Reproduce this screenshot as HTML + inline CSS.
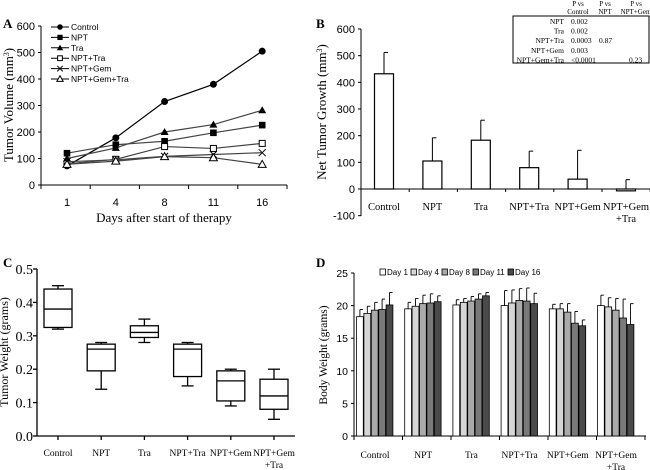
<!DOCTYPE html>
<html><head><meta charset="utf-8"><style>
html,body{margin:0;padding:0;background:#fff}
svg{display:block}
text{font-family:"Liberation Serif",serif;fill:#000}
.sans{font-family:"Liberation Sans",sans-serif}
</style></head><body>
<svg id="fig" width="650" height="470" viewBox="0 0 650 470">
<g id="pa"></g>
<g id="pb"></g>
<g id="pc"></g>
<g id="pd"></g>
</svg>
<script>
// Panel A data
const aDays = ["1","4","8","11","16"];
const aSeries = ["Control","NPT","Tra","NPT+Tra","NPT+Gem","NPT+Gem+Tra"];
const aControl = [72,178,315,380,505];
const aNPT = [120,152,165,197,226];
const aTra = [100,140,200,228,282];
const aNPTTra = [80,97,145,138,157];
const aNPTGem = [88,95,108,115,122];
const aNPTGemTra = [78,90,107,103,78];
const aTicks = [0,100,200,300,400,500,600];
// Panel B data
const bCats = ["Control","NPT","Tra","NPT+Tra","NPT+Gem","NPT+Gem|+Tra"];
const bMeans = [432,105,183,80,37,-7];
const bErrTop = [512,192,258,142,145,35];
const bTicks = [-100,0,100,200,300,400,500,600];
// Panel C data
const cMin = [0.32,0.14,0.28,0.15,0.09,0.05];
const cQ1 = [0.325,0.195,0.295,0.178,0.105,0.08];
const cMed = [0.38,0.26,0.31,0.26,0.165,0.12];
const cQ3 = [0.44,0.275,0.33,0.275,0.195,0.17];
const cMax = [0.45,0.28,0.35,0.28,0.20,0.20];
const cTicks = [0.0,0.1,0.2,0.3,0.4,0.5];
// Panel D data
const dDays = ["Day 1","Day 4","Day 8","Day 11","Day 16"];
const dControl = [18.3,18.8,19.3,19.4,20.1];
const dNPT = [19.5,19.9,20.3,20.4,20.6];
const dTra = [20.1,20.5,20.7,21.0,21.5];
const dNPTTra = [20.0,20.4,20.8,20.7,20.3];
const dNPTGem = [19.5,19.5,19.0,17.3,16.9];
const dNPTGemTra = [20.0,19.8,19.3,18.1,17.1];
const dErrControl = [19.4,19.9,20.5,21.0,22.0];
const dErrNPT = [20.5,21.1,21.6,21.8,21.5];
const dErrTra = [20.9,21.1,21.4,21.8,22.0];
const dErrNPTTra = [22.3,22.4,22.6,22.7,21.9];
const dErrNPTGem = [20.2,20.3,20.3,19.1,17.8];
const dErrNPTGemTra = [21.6,21.2,21.1,21.0,20.3];
const dTicks = [0,5,10,15,20,25];

const NS="http://www.w3.org/2000/svg";
function mk(p,tag,at,txt){const e=document.createElementNS(NS,tag);for(const k in at)e.setAttribute(k,at[k]);if(txt!==undefined)e.textContent=txt;p.appendChild(e);return e;}
function ln(p,x1,y1,x2,y2,w){return mk(p,"line",{x1,y1,x2,y2,stroke:"#000","stroke-width":w||1});}

// ---------- A ----------
(function(){
const g=document.getElementById("pa");
const X=i=>67+i*48.8, Y=v=>185-v*159/600;
let t=mk(g,"text",{x:3,y:28,"font-size":13,"font-weight":"bold"},"A");

ln(g,41,26,41,185);ln(g,41,185,287,185);
aTicks.forEach(v=>{ln(g,38,Y(v),41,Y(v));const e=mk(g,"text",{x:35,y:Y(v)+4,"font-size":11,"text-anchor":"end",class:"sans"},v);
});
for(let i=0;i<=5;i++){const x=41+i*49.2;ln(g,x,185,x,189);}
aDays.forEach((d,i)=>{const e=mk(g,"text",{x:X(i),y:206,"font-size":11,"text-anchor":"middle",class:"sans"},d);
});
t=mk(g,"text",{x:164,y:222,"font-size":13,"text-anchor":"middle"},"Days after start of therapy");

t=mk(g,"text",{transform:"translate(13,105) rotate(-90)","font-size":13,"text-anchor":"middle"});
t.innerHTML='Tumor Volume (mm<tspan baseline-shift="super" font-size="8">3</tspan>)';

const data=[aControl,aNPT,aTra,aNPTTra,aNPTGem,aNPTGemTra];
function marker(p,k,x,y,s){s=s||1;
 if(k===0)return mk(p,"circle",{cx:x,cy:y,r:3.5*s,fill:"#000"});
 if(k===1)return mk(p,"rect",{x:x-3.3*s,y:y-3.3*s,width:6.6*s,height:6.6*s,fill:"#000"});
 if(k===2)return mk(p,"polygon",{points:`${x},${y-4*s} ${x-4*s},${y+3*s} ${x+4*s},${y+3*s}`,fill:"#000"});
 if(k===3)return mk(p,"rect",{x:x-3*s,y:y-3*s,width:6*s,height:6*s,fill:"#fff",stroke:"#000"});
 if(k===4){const q=mk(p,"g",{});ln(q,x-3.5*s,y-3.5*s,x+3.5*s,y+3.5*s);ln(q,x-3.5*s,y+3.5*s,x+3.5*s,y-3.5*s);return q;}
 return mk(p,"polygon",{points:`${x},${y-4*s} ${x-4*s},${y+3*s} ${x+4*s},${y+3*s}`,fill:"#fff",stroke:"#000"});
}
data.forEach((s,k)=>{
 const sg=mk(g,"g",{});
 mk(sg,"polyline",{points:s.map((v,i)=>X(i)+","+Y(v)).join(" "),fill:"none",stroke:k===0?"#000":"#444","stroke-width":1.2});
 s.forEach((v,i)=>{const m=marker(sg,k,X(i),Y(v));});
 const ly=27+k*10.4;
 const lg=mk(g,"g",{});
 ln(lg,51,ly,69,ly,1);marker(lg,k,60,ly,0.8);
 mk(lg,"text",{x:71,y:ly+3,"font-size":8.5,class:"sans"},aSeries[k]);
});
})();

// ---------- B ----------
(function(){
const g=document.getElementById("pb");
const X=i=>384+i*48.4, Y=v=>189-v*160/600;
let t=mk(g,"text",{x:316,y:28,"font-size":13,"font-weight":"bold"},"B");

ln(g,361,29,361,216);ln(g,361,Y(0),650,Y(0));
bTicks.forEach(v=>{ln(g,358,Y(v),361,Y(v));const e=mk(g,"text",{x:355,y:Y(v)+4,"font-size":11,"text-anchor":"end",class:"sans"},v);
});
for(let i=0;i<=6;i++){const x=361+i*48.2;ln(g,x,Y(0),x,Y(0)+3);}
t=mk(g,"text",{transform:"translate(326,112) rotate(-90)","font-size":13,"text-anchor":"middle"});
t.innerHTML='Net Tumor Growth (mm<tspan baseline-shift="super" font-size="8">3</tspan>)';

bMeans.forEach((v,i)=>{
 const x=X(i);ln(g,x,Y(bErrTop[i]),x,Y(Math.max(v,0)));ln(g,x,Y(bErrTop[i]),x+4,Y(bErrTop[i]));
 const r=mk(g,"rect",{x:x-9.5,y:Math.min(Y(v),Y(0)),width:19,height:Math.max(Math.abs(Y(v)-Y(0)),1),fill:"#fff",stroke:"#000","stroke-width":1.2});
 
 bCats[i].split("|").forEach((s,j)=>{const e=mk(g,"text",{x:x,y:210+j*12,"font-size":10.5,"text-anchor":"middle"},s);
 });
});
const tg=mk(g,"g",{});
mk(tg,"rect",{x:513,y:16,width:136,height:47,fill:"none",stroke:"#000","stroke-width":1});
[["P vs","Control",578],["P vs","NPT",605],["P vs","NPT+Gem",636]].forEach(h=>{
 mk(tg,"text",{x:h[2],y:6,"font-size":7,"text-anchor":"middle"},h[0]);mk(tg,"text",{x:h[2],y:14,"font-size":7,"text-anchor":"middle"},h[1]);});
const rows=[["NPT","0.002","",""],["Tra","0.002","",""],["NPT+Tra","0.0003","0.87",""],["NPT+Gem","0.003","",""],["NPT+Gem+Tra","<0.0001","","0.23"]];
rows.forEach((r,k)=>{const y=24+k*9.6;
 mk(tg,"text",{x:564,y:y,"font-size":7.5,"text-anchor":"end"},r[0]);
 mk(tg,"text",{x:571,y:y,"font-size":7.5},r[1]);
 if(r[2])mk(tg,"text",{x:599,y:y,"font-size":7.5},r[2]);
 if(r[3])mk(tg,"text",{x:629,y:y,"font-size":7.5},r[3]);});
})();

// ---------- C ----------
(function(){
const g=document.getElementById("pc");
const X=i=>58+i*43.2, Y=v=>436-v*334;
let t=mk(g,"text",{x:3,y:267,"font-size":13,"font-weight":"bold"},"C");

ln(g,37,269,37,436,1.3);ln(g,37,436,295,436,1.3);
cTicks.forEach(v=>{ln(g,33,Y(v),37,Y(v),1.3);const e=mk(g,"text",{x:33,y:Y(v)+5,"font-size":14,"text-anchor":"end"},v.toFixed(1));
});
t=mk(g,"text",{transform:"translate(8,352) rotate(-90)","font-size":12,"text-anchor":"middle"},"Tumor Weight (grams)");

bCats.forEach((c,i)=>{
 const x=X(i);ln(g,x,436,x,440,1.3);
 const bg=mk(g,"g",{stroke:"#000","stroke-width":1.3});
 ln(bg,x,Y(cMax[i]),x,Y(cQ3[i]),1.3);ln(bg,x,Y(cMin[i]),x,Y(cQ1[i]),1.3);
 ln(bg,x-6,Y(cMax[i]),x+6,Y(cMax[i]),1.3);ln(bg,x-6,Y(cMin[i]),x+6,Y(cMin[i]),1.3);
 mk(bg,"rect",{x:x-14,y:Y(cQ3[i]),width:28,height:Y(cQ1[i])-Y(cQ3[i]),fill:"#fff"});
 ln(bg,x-14,Y(cMed[i]),x+14,Y(cMed[i]),1.3);
 c.split("|").forEach((s,j)=>{const e=mk(g,"text",{x:x,y:456+j*12,"font-size":9.5,"text-anchor":"middle"},s);
 });
});
})();

// ---------- D ----------
(function(){
const g=document.getElementById("pd");
const X=i=>375+i*48.2, Y=v=>436-v*163/25;
const cols=["#ffffff","#d6d6d6","#aaaaaa","#7a7a7a","#4a4a4a"];
const vals=[dControl,dNPT,dTra,dNPTTra,dNPTGem,dNPTGemTra];
const errs=[dErrControl,dErrNPT,dErrTra,dErrNPTTra,dErrNPTGem,dErrNPTGemTra];
let t=mk(g,"text",{x:316,y:267,"font-size":13,"font-weight":"bold"},"D");

ln(g,354,273,354,436);ln(g,354,436,646,436);
dTicks.forEach(v=>{ln(g,351,Y(v),354,Y(v));const e=mk(g,"text",{x:348,y:Y(v)+4,"font-size":10.5,"text-anchor":"end",class:"sans"},v);
});
for(let i=0;i<=6;i++){const x=354+i*48.5;ln(g,x,436,x,440);}
t=mk(g,"text",{transform:"translate(327,355) rotate(-90)","font-size":11.5,"text-anchor":"middle"},"Body Weight (grams)");

vals.forEach((s,i)=>{
 s.forEach((v,k)=>{const x=X(i)-18.5+k*7.4;
  const r=mk(g,"rect",{x:x,y:Y(v),width:6.8,height:Y(0)-Y(v),fill:cols[k],stroke:"#000","stroke-width":0.8});
  
  const cx=x+3.4,e=errs[i][k];ln(g,cx,Y(e),cx,Y(v),0.9);ln(g,cx,Y(e),cx+3,Y(e),0.9);});
 bCats[i].split("|").forEach((c,j)=>{const e=mk(g,"text",{x:X(i),y:458+j*12,"font-size":9.5,"text-anchor":"middle"},c);
 });
});
const lx=[386,417,448,479,514];
dDays.forEach((d,k)=>{const lg=mk(g,"g",{});
 mk(lg,"rect",{x:lx[k]-6,y:269,width:5.5,height:6,fill:cols[k],stroke:"#000","stroke-width":0.8});
 mk(lg,"text",{x:lx[k]+1,y:275,"font-size":8,class:"sans"},d);});
})();
</script>
</body></html>
